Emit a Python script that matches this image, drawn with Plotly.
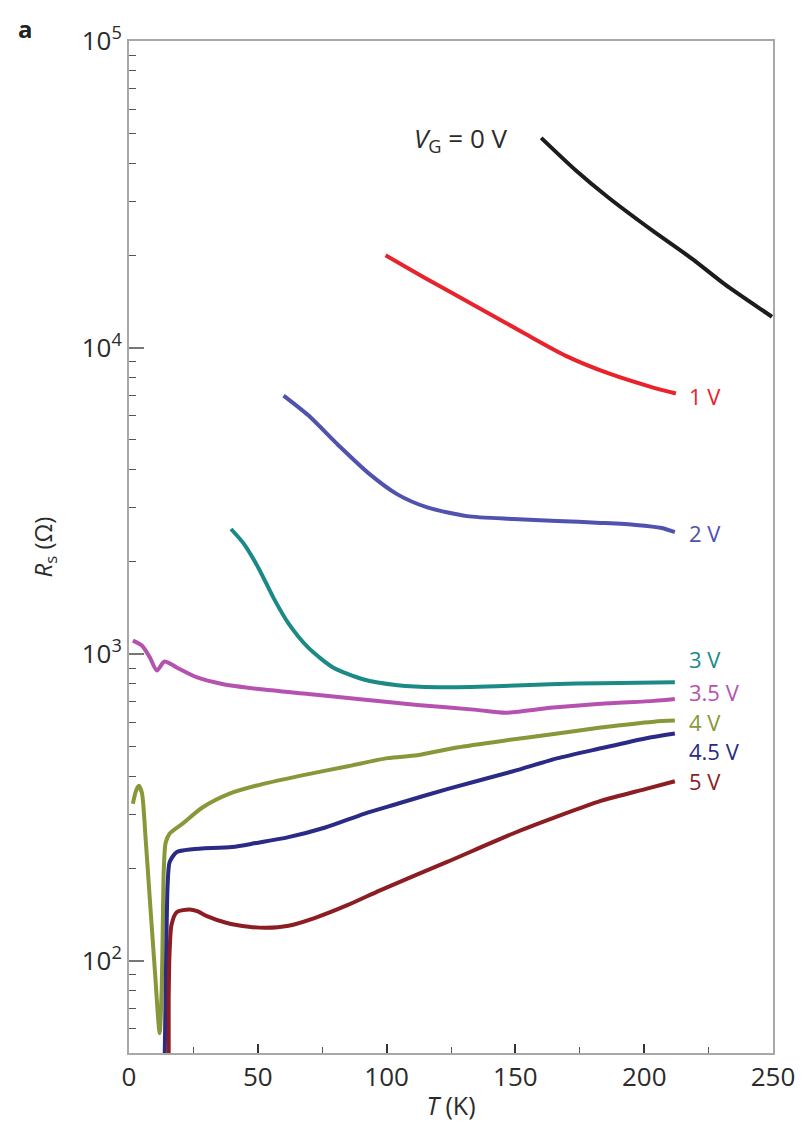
import math
import plotly.graph_objects as go

# ---------------- data ----------------
T_0V = [160.0, 173.5, 186.2, 203.1, 218.5, 231.2, 249.6]
R_0V = [48300, 37800, 30800, 24100, 19500, 16100, 12600]

T_1V = [99.6, 115.8, 135.0, 152.9, 169.8, 186.8, 203.8, 212.3]
R_1V = [20000, 16700, 13600, 11200, 9380, 8200, 7390, 7080]

T_2V = [60.0, 69.6, 81.2, 92.7, 104.2, 115.8, 131.2, 149.1, 166.1, 183.1, 196.7, 206.8, 211.9]
R_2V = [6970, 6010, 4810, 3910, 3320, 3010, 2820, 2760, 2720, 2680, 2640, 2580, 2500]

T_3V = [39.6, 44.6, 50.4, 56.2, 61.9, 69.6, 79.2, 90.8, 104.2, 119.6, 142.7, 163.5, 183.1, 211.9]
R_3V = [2560, 2290, 1900, 1520, 1260, 1050, 905, 828, 792, 780, 786, 798, 804, 810]

T_35V = [1.5, 5.0, 8.1, 10.8, 13.8, 18.5, 26.2, 36.2, 50.4, 69.6, 88.8, 111.9, 135.0, 146.1, 163.5, 183.1, 203.8, 211.9]
R_35V = [1107, 1067, 975, 885, 946, 905, 841, 799, 769, 741, 714, 683, 658, 644, 668, 689, 704, 714]

T_4V = [1.5, 2.7, 3.8, 5.0, 6.5, 8.1, 10.0, 11.9, 12.7, 13.1, 13.5, 14.2, 15.8, 20.8, 28.5, 38.8,
        49.2, 65.8, 85.0, 100.4, 111.9, 127.3, 146.1, 163.5, 183.1, 203.8, 211.9]
R_4V = [325, 358, 372, 353, 247, 158, 94, 58, 81, 127, 198, 242, 260, 280, 316, 350,
        372, 400, 431, 458, 468, 496, 523, 547, 576, 602, 607]

T_45V = [13.8, 14.2, 14.6, 15.0, 15.8, 18.5, 24.6, 40.0, 49.2, 61.9, 76.2, 91.5, 104.2, 123.5,
         149.1, 166.1, 183.1, 200.4, 211.9]
R_45V = [45, 75, 127, 177, 210, 226, 231, 235, 242, 253, 272, 302, 325, 363,
         415, 457, 493, 531, 551]

T_5V = [15.4, 15.4, 15.8, 16.5, 18.5, 23.5, 26.5, 30.0, 37.7, 46.5, 53.1, 61.9, 72.3, 85.0,
        97.7, 123.5, 149.1, 166.1, 183.1, 200.4, 211.9]
R_5V = [45, 75, 109, 131, 144, 147, 145, 140, 133, 129, 128, 130, 138, 152,
        170, 210, 260, 295, 332, 363, 385]

series_names = ["0 V", "1 V", "2 V", "3 V", "3.5 V", "4 V", "4.5 V", "5 V"]
series_T = [T_0V, T_1V, T_2V, T_3V, T_35V, T_4V, T_45V, T_5V]
series_R = [R_0V, R_1V, R_2V, R_3V, R_35V, R_4V, R_45V, R_5V]
series_colors = ["#1c1c1c", "#e8232b", "#4f52ae", "#1b8a87", "#b552b0", "#879838", "#2b2a86", "#8c1d22"]

label_texts = ["1 V", "2 V", "3 V", "3.5 V", "4 V", "4.5 V", "5 V"]
label_R = [6970, 2480, 961, 752, 602, 482, 385]
label_T = 216.5

x_ticks = [0, 50, 100, 150, 200, 250]
y_ticks = [100, 1000, 10000, 100000]
y_ticktext = ["10<sup>2</sup>", "10<sup>3</sup>", "10<sup>4</sup>", "10<sup>5</sup>"]
y_minor = [m * 10 ** e for e in range(1, 5) for m in range(2, 10) if 50 <= m * 10 ** e <= 100000]

FONT = "Open Sans, sans-serif"
TXT = "#2b2b2b"

fig = go.Figure()
for name, t, r, c in zip(series_names, series_T, series_R, series_colors):
    fig.add_trace(go.Scatter(x=t, y=r, mode="lines", name=name,
                             line=dict(color=c, width=4, shape="spline", smoothing=0.7),
                             showlegend=False, cliponaxis=True))

for txt, rv, c in zip(label_texts, label_R, series_colors[1:]):
    fig.add_annotation(x=label_T, y=math.log10(rv), xref="x", yref="y", text=txt,
                       showarrow=False, xanchor="left", yanchor="middle",
                       font=dict(family=FONT, size=22, color=c))

fig.add_annotation(x=110, y=math.log10(48000), xref="x", yref="y",
                   text="<i>V</i><sub>G</sub> = 0 V", showarrow=False,
                   xanchor="left", yanchor="middle",
                   font=dict(family=FONT, size=26, color=TXT))

fig.add_annotation(x=-0.16, y=1.0127, xref="paper", yref="paper", text="<b>a</b>",
                   showarrow=False, xanchor="center", yanchor="middle",
                   font=dict(family=FONT, size=24, color="#222"))

axis_line = dict(showline=True, linecolor="#a8a8a8", linewidth=2, mirror=True,
                 showgrid=False, zeroline=False)

fig.update_xaxes(range=[0, 250], tickvals=x_ticks, ticks="inside", ticklen=9, tickwidth=1.5,
                 tickcolor="#333", tickfont=dict(family=FONT, size=26, color=TXT),
                 minor=dict(dtick=25, tick0=0, ticks="inside", ticklen=6, tickcolor="#555", tickwidth=1.2),
                 title=dict(text="<i>T</i> (K)", font=dict(family=FONT, size=25, color=TXT), standoff=4),
                 **axis_line)
fig.update_yaxes(type="log", range=[math.log10(50), 5], tickvals=y_ticks, ticktext=y_ticktext,
                 ticks="inside", ticklen=15, tickwidth=1.5, tickcolor="#777",
                 tickfont=dict(family=FONT, size=26, color=TXT),
                 minor=dict(tickvals=y_minor, ticks="inside", ticklen=7, tickcolor="#555", tickwidth=1.2),
                 title=dict(text="<i>R</i><sub>s</sub> (Ω)", font=dict(family=FONT, size=24, color=TXT), standoff=22),
                 **axis_line)

fig.update_layout(width=799, height=1120, plot_bgcolor="white", paper_bgcolor="white",
                  margin=dict(l=121, r=28, t=23, b=74), showlegend=False)

fig.write_html("out.html")
